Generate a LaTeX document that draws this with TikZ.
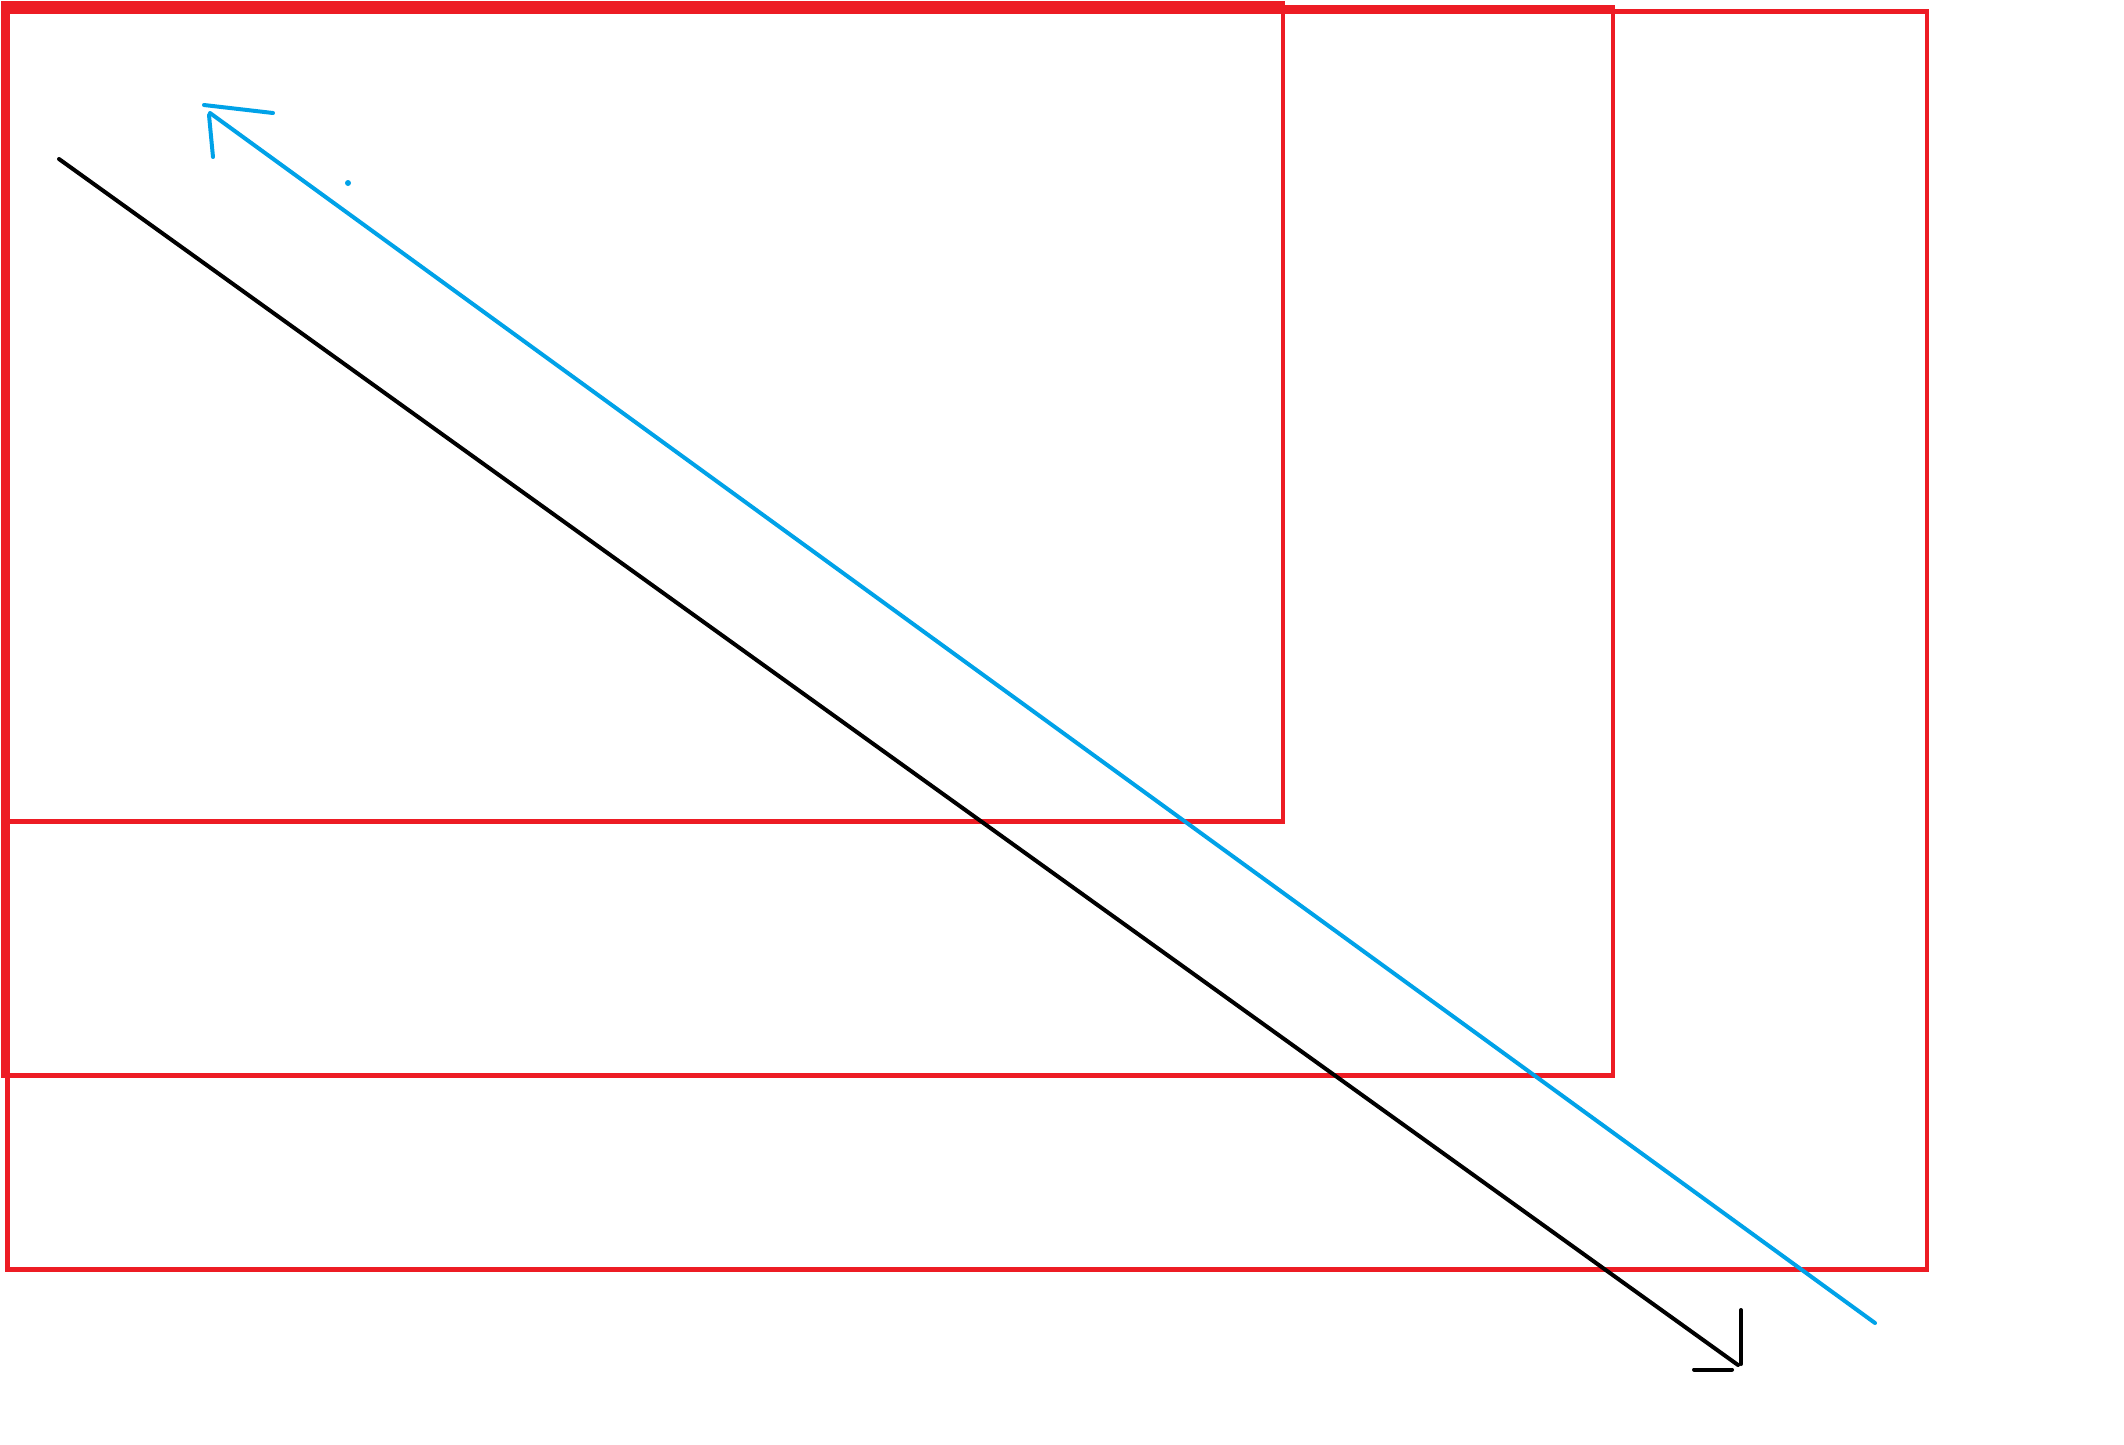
\documentclass[tikz,border=0pt]{standalone}
\definecolor{paintred}{HTML}{ED1C24}
\definecolor{paintblue}{HTML}{00A2E8}
\tikzset{
  frame/.style={draw=paintred, line width=4.5pt, line join=miter},
  stroke/.style={line width=4pt, line cap=round, line join=round},
}
\begin{document}
\begin{tikzpicture}[x=1pt,y=-1pt]
\useasboundingbox[fill=white] (0,0) rectangle (2124,1444);
% rectangles
\draw[frame] (7.5,11.5) rectangle (1927,1269.5);
\draw[frame] (3.3,7.5) rectangle (1613,1075.5);
\draw[frame] (3.5,3.5) rectangle (1283,821.5);
% black arrow
\coordinate (bs) at (59,159);
\coordinate (bt) at (1738,1365);
\coordinate (bh1a) at (1741,1310);
\coordinate (bh1b) at (1741,1364);
\coordinate (bh2a) at (1694,1369.5);
\coordinate (bh2b) at (1732,1369.5);
\draw[stroke, black] (bs) -- (bt);
\draw[stroke, black] (bh1a) -- (bh1b);
\draw[stroke, black] (bh2a) -- (bh2b);
% blue arrow
\coordinate (us) at (1875,1323);
\coordinate (ut) at (210,113);
\coordinate (uh1a) at (204,105);
\coordinate (uh1b) at (273,113);
\coordinate (uh2a) at (209,115);
\coordinate (uh2b) at (213,157);
\coordinate (dot) at (348,183);
\draw[stroke, paintblue] (us) -- (ut);
\draw[stroke, paintblue] (uh1a) -- (uh1b);
\draw[stroke, paintblue] (uh2a) -- (uh2b);
\fill[paintblue] (dot) circle (3pt);
\end{tikzpicture}
\end{document}
